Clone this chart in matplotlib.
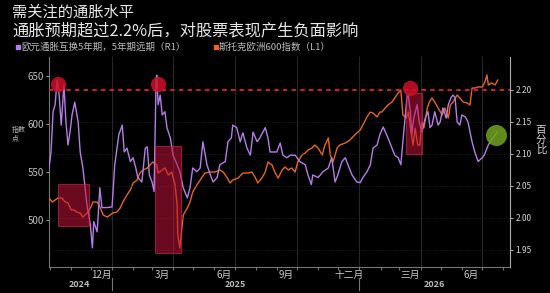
import numpy as np
import pandas as pd
import matplotlib
matplotlib.use('Agg')
import matplotlib.pyplot as plt
import matplotlib.dates as mdates
import matplotlib.ticker as mticker
import matplotlib.transforms as mtransforms
from matplotlib.patches import Rectangle

plt.rcParams['font.family'] = ['Noto Sans CJK SC', 'DejaVu Sans']

# 数据：距 2025-01-01 的天数
base = pd.Timestamp('2025-01-01')

swap_days = [-93, -90, -87, -84, -81, -78, -75, -74, -71, -68, -65, -62, -59, -55, -50, -47, -43, -37,
             -32, -29, -27, -22, -21, -18, -15, -7, 0, 4, 10, 15, 18, 22, 27, 31, 35, 38, 44, 49, 52,
             55, 59, 62, 65, 66, 68, 71, 74, 78, 81, 86, 90, 96, 100, 105, 111, 115, 119, 125, 130,
             134, 140, 145, 149, 155, 159, 167, 171, 176, 178, 184, 189, 193, 199, 204, 208, 214, 218,
             226, 230, 233, 237, 243, 248, 252, 258, 263, 270, 277, 285, 289, 294, 296, 304, 311, 319,
             324, 329, 333, 339, 344, 348, 354, 361, 366, 370, 376, 381, 385, 391, 395, 400, 407, 413,
             417, 422, 426, 429, 435, 437, 440, 442, 445, 450, 453, 457, 462, 466, 469, 472, 476, 481,
             484, 488, 493, 496, 500, 503, 506, 509, 513, 516, 521, 525, 531, 535, 540, 546, 549, 555,
             558, 562, 568]
swap_vals = [2.078, 2.103, 2.166, 2.177, 2.216, 2.192, 2.145, 2.161, 2.208, 2.150, 2.114, 2.134, 2.161,
             2.181, 2.150, 2.103, 2.078, 2.020, 1.989, 1.953, 1.994, 1.978, 1.994, 2.047, 2.016, 2.016,
             2.017, 2.083, 2.130, 2.145, 2.103, 2.109, 2.088, 2.094, 2.078, 2.063, 2.056, 2.109, 2.111,
             2.067, 2.056, 2.041, 2.219, 2.223, 2.177, 2.192, 2.161, 2.166, 2.141, 2.125, 2.098, 2.083,
             2.072, 2.047, 2.031, 2.047, 2.078, 2.072, 2.078, 2.119, 2.083, 2.067, 2.056, 2.063, 2.083,
             2.088, 2.119, 2.125, 2.145, 2.141, 2.119, 2.133, 2.109, 2.098, 2.134, 2.119, 2.125, 2.141,
             2.125, 2.103, 2.103, 2.103, 2.117, 2.098, 2.094, 2.098, 2.098, 2.088, 2.083, 2.067, 2.052,
             2.067, 2.063, 2.072, 2.078, 2.094, 2.056, 2.067, 2.088, 2.094, 2.083, 2.067, 2.056, 2.055,
             2.063, 2.072, 2.083, 2.109, 2.114, 2.130, 2.142, 2.125, 2.109, 2.098, 2.094, 2.083, 2.119,
             2.188, 2.192, 2.166, 2.130, 2.156, 2.177, 2.150, 2.134, 2.156, 2.166, 2.141, 2.145, 2.166,
             2.145, 2.150, 2.172, 2.156, 2.177, 2.188, 2.192, 2.188, 2.150, 2.145, 2.161, 2.158, 2.150,
             2.119, 2.103, 2.088, 2.094, 2.098, 2.114, 2.119, 2.125, 2.134]

stoxx_days = [-93, -88, -84, -80, -74, -69, -65, -60, -56, -52, -47, -43, -37, -32, -28, -22, -18, -13,
              -7, -3, 1, 7, 12, 16, 22, 27, 31, 37, 41, 46, 52, 56, 60, 66, 68, 74, 78, 83, 88, 93, 96,
              97, 100, 103, 105, 111, 115, 119, 125, 130, 137, 145, 152, 159, 164, 170, 174, 178, 186,
              193, 201, 206, 211, 215, 221, 226, 230, 236, 240, 245, 251, 255, 260, 265, 270, 274, 280,
              285, 289, 295, 299, 304, 310, 314, 319, 322, 326, 332, 336, 344, 351, 355, 361, 366, 370,
              376, 381, 385, 391, 395, 398, 403, 407, 413, 417, 422, 426, 429, 434, 437, 441, 444, 447,
              451, 454, 457, 460, 465, 468, 472, 476, 481, 487, 491, 496, 499, 503, 509, 513, 518, 524,
              528, 531, 535, 540, 546, 550, 553, 555, 560, 565, 569]
stoxx_vals = [523.1, 519.0, 521.1, 523.1, 523.1, 519.0, 518.0, 510.7, 510.7, 508.6, 507.6, 503.4, 507.6,
              512.8, 519.0, 519.0, 513.8, 505.5, 503.4, 505.5, 507.6, 508.6, 512.8, 519.0, 526.3, 531.4,
              538.7, 541.8, 549.1, 552.2, 554.3, 557.4, 560.5, 557.4, 549.1, 552.2, 554.3, 547.0, 550.1,
              536.6, 515.9, 484.8, 471.3, 492.0, 505.5, 512.8, 519.0, 529.4, 536.6, 541.8, 549.1, 550.1,
              550.1, 552.2, 550.1, 543.9, 538.7, 541.8, 543.9, 549.1, 549.1, 550.1, 544.9, 538.7, 543.9,
              550.1, 560.5, 557.4, 550.1, 543.9, 552.2, 555.3, 552.2, 554.3, 550.1, 560.5, 567.7, 569.8,
              572.9, 575.0, 578.1, 575.0, 567.7, 578.1, 585.4, 567.7, 560.5, 575.0, 578.1, 580.2, 583.3,
              586.4, 590.6, 593.7, 598.9, 607.2, 612.3, 611.3, 607.2, 612.3, 612.3, 616.5, 619.6, 622.7,
              626.9, 632.1, 635.2, 609.2, 606.1, 612.3, 591.6, 578.1, 595.7, 578.1, 578.1, 602.0, 595.7,
              616.5, 622.7, 626.9, 622.7, 616.5, 609.2, 616.5, 606.1, 619.6, 622.7, 630.0, 626.9, 622.7,
              621.7, 619.6, 637.2, 637.2, 638.3, 638.3, 643.5, 650.7, 640.4, 642.4, 640.4, 645.5]

threshold = 2.20
# 标注框 (起始天, 结束天, 下沿, 上沿) —— 左轴单位
boxes = [(-80, -34, 494.4, 537.7), (63, 102, 465.8, 577.1), (433, 457, 568.7, 631.7)]
red_marks_days = [-80, 68, 440]
red_marks_vals = [641.4, 641.9, 637.2]
green_mark_day = 567
green_mark_val = 2.130

month_labels = ['12月', '3月', '6月', '9月', '十二月', '三月', '6月']
month_label_dates = ['2024-12-16', '2025-03-16', '2025-06-15', '2025-09-15',
                     '2025-12-16', '2026-03-16', '2026-06-15']
year_labels = ['2024', '2025', '2026']
year_label_dates = ['2024-11-14', '2025-07-02', '2026-04-22']


def to_dates(days):
    return base + pd.to_timedelta(days, unit='D')


purple = '#b47ee6'
orange = '#e8661e'
grey = '#bdbdbd'

fig = plt.figure(figsize=(5.5, 2.93), dpi=100, facecolor='black')
ax = fig.add_axes([49 / 550, 26 / 293, 461 / 550, 210 / 293])
ax.set_facecolor('black')
ax2 = ax.twinx()

ax.plot(to_dates(stoxx_days), stoxx_vals, color=orange, lw=1.0, zorder=3)
ax2.plot(to_dates(swap_days), swap_vals, color=purple, lw=1.0, zorder=3)

ax.set_xlim(to_dates([-93])[0], to_dates([587])[0])
ax.set_ylim(451.6, 669.4)
ax2.set_ylim(1.923, 2.2516)

# 阈值虚线
ax2.axhline(threshold, color='#e41e3c', lw=1.3, dashes=(2.4, 2.4), zorder=4)

# 标注框
for d0, d1, y0, y1 in boxes:
    x0 = mdates.date2num(to_dates([d0])[0])
    r = Rectangle((x0, y0), d1 - d0, y1 - y0, transform=ax.transData,
                  facecolor='#c0143c', alpha=0.55, edgecolor='#e03050', lw=0.8, zorder=5)
    ax2.add_patch(r)

ax2.scatter(to_dates(red_marks_days), red_marks_vals, s=120, color='#d0102a', alpha=0.85,
            transform=ax.transData, zorder=6, linewidths=0)
ax2.scatter(to_dates([green_mark_day]), [green_mark_val], s=229, color='#6fa51e', alpha=0.85,
            zorder=6, linewidths=0)

# 坐标轴
for a in (ax, ax2):
    for s in a.spines.values():
        s.set_visible(False)
ax.spines['left'].set_visible(True)
ax.spines['left'].set_color('#777777')
ax.spines['bottom'].set_visible(True)
ax.spines['bottom'].set_color('#777777')
ax2.spines['right'].set_visible(True)
ax2.spines['right'].set_color('#aaaaaa')

ax.set_yticks([500, 550, 600, 650])
ax.tick_params(axis='y', colors='#999999', labelcolor=grey, labelsize=7, length=2.5, pad=1)
ax2.set_yticks([1.95, 2.00, 2.05, 2.10, 2.15, 2.20])
ax2.set_yticklabels(['1.95', '2.00', '2.05', '2.10', '2.15', '2.20'])
ax2.tick_params(axis='y', colors='#aaaaaa', labelcolor='#d8d8d8', labelsize=6, length=2.5, pad=1.5)
ax2.grid(axis='y', color='#262626', lw=0.6, ls=':')

ax.xaxis.set_major_locator(mdates.MonthLocator())
ax.xaxis.set_major_formatter(mticker.NullFormatter())
ax.xaxis.set_minor_locator(mticker.FixedLocator(mdates.date2num(pd.to_datetime(month_label_dates))))
ax.xaxis.set_minor_formatter(mticker.FixedFormatter(month_labels))
ax.tick_params(axis='x', which='major', colors='#777777', length=2.5, width=0.8)
ax.tick_params(axis='x', which='minor', length=0, labelsize=7, labelcolor='#cccccc', pad=2)

# 季度网格
for q in pd.date_range('2025-01-01', '2026-07-01', freq='QS'):
    ax.axvline(q, color='#2a2a2a', lw=0.7, zorder=1)

trans = mtransforms.blended_transform_factory(ax.transData, ax.transAxes)
for lab, d in zip(year_labels, year_label_dates):
    ax.text(pd.Timestamp(d), -0.085, lab, transform=trans, ha='center', va='center',
            fontsize=6.5, color='#bbbbbb', fontweight='bold')
for d in ['2025-01-01', '2026-01-01']:
    ax.plot([pd.Timestamp(d)] * 2, [-0.05, -0.11], transform=trans, color='#777777',
            lw=0.8, clip_on=False)

# 标题和图例
fig.text(12 / 550, 1 - 12.5 / 293, '需关注的通胀水平', fontsize=11, color='#e8e8e8', va='center', ha='left')
fig.text(12 / 550, 1 - 31 / 293, '通胀预期超过2.2%后，对股票表现产生负面影响', fontsize=11.7,
         color='#e8e8e8', va='center', ha='left')
fig.patches.append(Rectangle((16 / 550, 1 - 49 / 293), 4 / 550, 4 / 293, transform=fig.transFigure,
                             color=purple, figure=fig))
fig.text(21 / 550, 1 - 47 / 293, '欧元通胀互换5年期，5年期远期（R1）', fontsize=6.8, color=grey,
         va='center', ha='left')
fig.patches.append(Rectangle((214 / 550, 1 - 49 / 293), 4 / 550, 4 / 293, transform=fig.transFigure,
                             color=orange, figure=fig))
fig.text(219 / 550, 1 - 47 / 293, '斯托克欧洲600指数（L1）', fontsize=6.8, color=grey,
         va='center', ha='left')

fig.text(12 / 550, 1 - 134 / 293, '指数\n点', fontsize=5, color=grey, va='center', ha='left',
         linespacing=1.1)
fig.text(541 / 550, 1 - 140 / 293, '百\n分\n比', fontsize=7.5, color='#d8d8d8', va='center',
         ha='center', linespacing=1.0)

fig.savefig('out.png', dpi=100, facecolor='black')
